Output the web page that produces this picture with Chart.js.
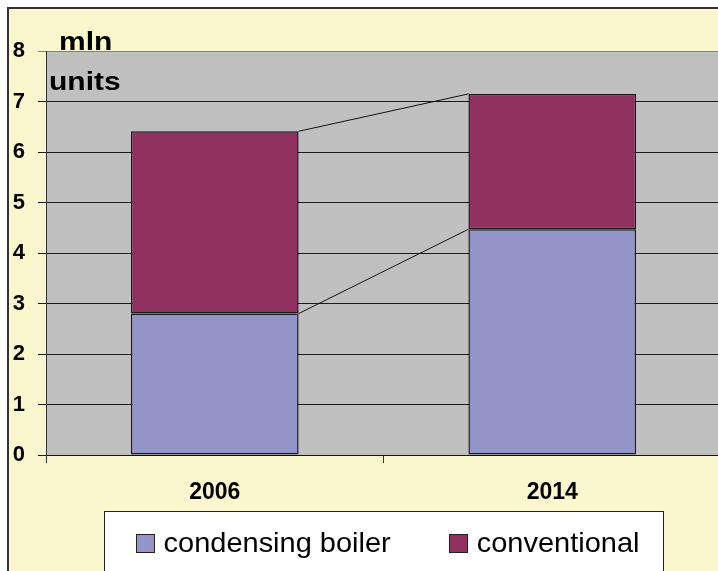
<!DOCTYPE html>
<html>
<head>
<meta charset="utf-8">
<script src="https://cdn.jsdelivr.net/npm/chart.js@4.4.1/dist/chart.umd.min.js"></script>
<style>
  html, body { margin: 0; padding: 0; background: #ffffff; overflow: hidden; width: 718px; height: 571px; }
  #frame { position: absolute; left: 7px; top: 7px; width: 800px; height: 700px; background: #FAF7CE;
           border-top: 2px solid #333; border-left: 2px solid #333; }
  #c { position: absolute; left: 0; top: 0; }
</style>
</head>
<body>
<div id="frame"></div>
<canvas id="c" width="767" height="600"></canvas>
<script>
// ---- data ----
const categories = ['2006', '2014'];
const seriesNames = ['condensing boiler', 'conventional'];
const condensingBoiler = [2.8, 4.47];
const conventional = [3.61, 2.68];
const axisTitleLines = ['mln', 'units'];
const yMin = 0, yMax = 8, yStep = 1;
const seriesColors = ['#9394C8', '#91315F'];

const FONT = '"Liberation Sans", Arial, sans-serif';

const plotBgPlugin = {
  id: 'plotBg',
  beforeDraw(chart) {
    const { ctx, chartArea: a } = chart;
    ctx.save();
    ctx.fillStyle = '#C0C0C0';
    ctx.fillRect(a.left, a.top, a.right - a.left, a.bottom - a.top);
    ctx.restore();
  }
};

// Excel-style series lines joining the stacked segment tops
const seriesLinesPlugin = {
  id: 'seriesLines',
  afterDatasetsDraw(chart) {
    const { ctx } = chart;
    ctx.save();
    ctx.strokeStyle = '#111';
    ctx.lineWidth = 1;
    chart.data.datasets.forEach((ds, d) => {
      const meta = chart.getDatasetMeta(d);
      for (let i = 0; i < meta.data.length - 1; i++) {
        const a = meta.data[i], b = meta.data[i + 1];
        ctx.beginPath();
        ctx.moveTo(a.x + a.width / 2, a.y);
        ctx.lineTo(b.x - b.width / 2, b.y);
        ctx.stroke();
      }
    });
    ctx.restore();
  }
};

const annotPlugin = {
  id: 'annot',
  afterDraw(chart) {
    const { ctx, chartArea: a } = chart;
    ctx.save();
    // axis title (two lines, top-left)
    ctx.fillStyle = '#000';
    ctx.font = 'bold 25px ' + FONT;
    ctx.textBaseline = 'alphabetic';
    ctx.textAlign = 'left';
    const pos = [[59, 49.5], [49, 90]];
    axisTitleLines.forEach((t, i) => {
      ctx.save();
      ctx.translate(pos[i][0], pos[i][1]);
      ctx.scale(1.2, 1);
      ctx.fillText(t, 0, 0);
      ctx.restore();
    });
    // legend box
    const cx = (a.left + a.right) / 2;
    const boxW = 559;
    const bx = Math.round(cx - boxW / 2) + 0.5, by = 511.5;
    ctx.fillStyle = '#ffffff';
    ctx.fillRect(bx, by, boxW, 120);
    ctx.strokeStyle = '#222';
    ctx.lineWidth = 1;
    ctx.strokeRect(bx, by, boxW, 120);
    ctx.font = '28px ' + FONT;
    const sx = 1.035;
    const mk = 18, gap = 10, itemGap = 58;
    const widths = chart.data.datasets.map(ds => ctx.measureText(ds.label).width * sx);
    let total = 0;
    widths.forEach((w, i) => { total += mk + gap + w + (i ? itemGap : 0); });
    let x = cx + 4 - total / 2;
    chart.data.datasets.forEach((ds, i) => {
      ctx.fillStyle = ds.backgroundColor;
      ctx.fillRect(Math.round(x) + 0.5, 534.5, mk, mk);
      ctx.strokeStyle = '#222';
      ctx.strokeRect(Math.round(x) + 0.5, 534.5, mk, mk);
      ctx.fillStyle = '#000';
      ctx.textAlign = 'left';
      ctx.save();
      ctx.translate(x + mk + gap, 552);
      ctx.scale(sx, 1);
      ctx.fillText(ds.label, 0, 0);
      ctx.restore();
      x += mk + gap + widths[i] + itemGap;
    });
    ctx.restore();
  }
};

new Chart(document.getElementById('c'), {
  type: 'bar',
  data: {
    labels: categories,
    datasets: [
      { label: seriesNames[0], data: condensingBoiler, backgroundColor: seriesColors[0] },
      { label: seriesNames[1], data: conventional, backgroundColor: seriesColors[1] }
    ].map(ds => Object.assign(ds, {
      borderColor: '#1a1a1a', borderWidth: 1.5, borderSkipped: false,
      barPercentage: 0.497, categoryPercentage: 1
    }))
  },
  options: {
    responsive: false,
    devicePixelRatio: 1,
    animation: false,
    events: [],
    layout: { padding: { top: 51, left: 0, right: 46, bottom: 0 } },
    plugins: { legend: { display: false }, tooltip: { enabled: false }, title: { display: false } },
    scales: {
      x: {
        stacked: true,
        afterFit: s => { s.height = 145; },
        grid: { offset: true, drawOnChartArea: false, drawTicks: true, tickLength: 8, color: '#333', lineWidth: 1 },
        border: { color: '#111', width: 1 },
        ticks: { color: '#000', padding: 16, font: { family: FONT, size: 23, weight: 'bold' } }
      },
      y: {
        stacked: true,
        min: yMin, max: yMax,
        afterFit: s => { s.width = 46; },
        grid: { color: c => (c.tick && c.tick.value === yMax) ? '#808080' : '#1a1a1a', lineWidth: 1, tickLength: 8 },
        border: { color: '#333', width: 1 },
        ticks: { stepSize: yStep, color: '#000', padding: 13, font: { family: FONT, size: 22, weight: 'bold' } }
      }
    }
  },
  plugins: [plotBgPlugin, seriesLinesPlugin, annotPlugin]
});
</script>
</body>
</html>
